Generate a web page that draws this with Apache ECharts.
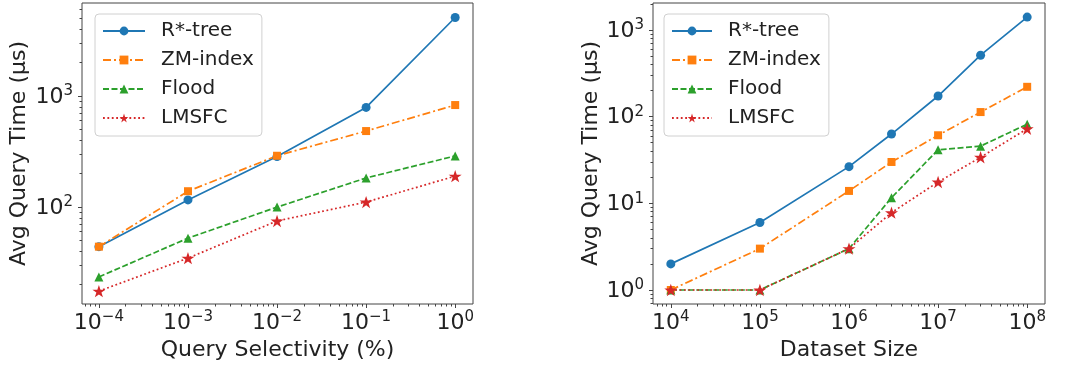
<!DOCTYPE html>
<html><head><meta charset="utf-8">
<script src="https://cdn.jsdelivr.net/npm/echarts@6/dist/echarts.min.js"></script>
<style>html,body{margin:0;padding:0;background:#fff}#c{width:1080px;height:369px}</style>
</head><body><div id="c"></div>
<script>
const seriesNames = ['R*-tree', 'ZM-index', 'Flood', 'LMSFC'];
// Left panel: Query Selectivity (%)
const selectivity = [1e-4, 1e-3, 1e-2, 1e-1, 1];
const selRtree = [44, 116, 285, 790, 5100];
const selZM = [44, 139, 290, 484, 830];
const selFlood = [23.5, 52.5, 100, 183, 289];
const selLMSFC = [17.5, 34.7, 75, 111, 190];
// Right panel: Dataset Size
const datasetSize = [1e4, 1e5, 1e6, 3e6, 1e7, 3e7, 1e8];
const sizeRtree = [2, 6, 26.5, 63, 173, 512, 1410];
const sizeZM = [1, 3, 13.9, 30, 61, 113, 221];
const sizeFlood = [1, 1, 3, 11.6, 41.5, 45.7, 82];
const sizeLMSFC = [1, 1, 3, 7.8, 17.6, 34, 72.5];
// Tick labels
const selTicks = [1e-4, 1e-3, 1e-2, 1e-1, 1];
const sizeTicks = [1e4, 1e5, 1e6, 1e7, 1e8];
const timeTicksLeft = [1e2, 1e3];
const timeTicksRight = [1, 10, 100, 1000];

const FONT = 'DejaVu Sans';
const TXT = '#222';
const AX = '#444';
const colors = ['#1f77b4', '#ff7f0e', '#2ca02c', '#d62728'];
const symbols = ['circle', 'rect', 'triangle',
  'path://M50,0 L61.8,35.3 L98.8,35.3 L68.9,57.3 L80.3,92.7 L50,70.9 L19.7,92.7 L31.1,57.3 L1.2,35.3 L38.2,35.3 Z'];
const symSizes = [9, 8, 9, 13];
const dashes = ['solid', [8, 3, 2, 3], [6, 2.5], [1.8, 2.6]];

const L = { xMin: 6.46e-5, xMax: 1.585, yMin: 13.4, yMax: 6890 };
const R = { xMin: 6310, xMax: 1.585e8, yMin: 0.689, yMax: 2049 };

function minorTicks(lo, hi) {
  const out = [];
  for (let k = Math.floor(Math.log10(lo)); k <= Math.ceil(Math.log10(hi)); k++) {
    for (let m = 2; m <= 9; m++) {
      const v = m * Math.pow(10, k);
      if (v > lo && v < hi) out.push(v);
    }
  }
  return out;
}
function sup(v) {
  const e = Math.round(Math.log10(v));
  return '{b|10}{s|' + (e < 0 ? '\u2212' + (-e) : String(e)) + '}';
}
const rich = {
  b: { fontSize: 22, fontFamily: FONT, color: TXT, verticalAlign: 'bottom' },
  s: { fontSize: 15, fontFamily: FONT, color: TXT, verticalAlign: 'bottom', padding: [0, 0, 9, 0] }
};
function majorAxis(grid, pos, min, max, ticks, name, gap, margin) {
  return {
    type: 'log', logBase: 10, gridIndex: grid, position: pos, min: min, max: max,
    axisLine: { show: false }, splitLine: { show: false },
    axisTick: { show: true, customValues: ticks, length: 4, lineStyle: { color: AX, width: 1 } },
    axisLabel: { customValues: ticks, formatter: sup, rich: rich, margin: margin },
    name: name, nameLocation: 'middle', nameGap: gap,
    nameTextStyle: { fontSize: 22, fontFamily: FONT, color: TXT }
  };
}
function minorAxis(grid, pos, min, max) {
  return {
    type: 'log', logBase: 10, gridIndex: grid, position: pos, min: min, max: max,
    axisLine: { show: false }, splitLine: { show: false }, axisLabel: { show: false },
    axisTick: { show: true, customValues: minorTicks(min, max), length: 2.5, lineStyle: { color: AX, width: 1 } }
  };
}
function pairs(x, y) { return x.map((v, i) => [v, y[i]]); }
function mkSeries(i, axisIdx, x, y) {
  return {
    type: 'line', name: seriesNames[i], xAxisIndex: axisIdx, yAxisIndex: axisIdx,
    data: pairs(x, y), symbol: symbols[i], symbolSize: symSizes[i], symbolKeepAspect: true,
    showAllSymbol: true, animation: false,
    lineStyle: { color: colors[i], width: 1.7, type: dashes[i], cap: 'butt' },
    itemStyle: { color: colors[i], borderWidth: 0 },
    emphasis: { disabled: true }
  };
}
function mkLegend(left, itemWidth) {
  return {
    left: left, top: 14, orient: 'vertical', data: seriesNames, selectedMode: false,
    itemWidth: itemWidth, itemHeight: 11, itemGap: 9,
    textStyle: { fontSize: 20, lineHeight: 20, fontFamily: FONT, color: TXT, padding: [0, 0, 0, 11] },
    backgroundColor: 'rgba(255,255,255,0.8)', borderColor: '#d0d0d0', borderWidth: 1, borderRadius: 4,
    padding: [7, 8, 8, 7]
  };
}

const chart = echarts.init(document.getElementById('c'), null, { renderer: 'canvas' });
chart.setOption({
  backgroundColor: '#fff',
  animation: false,
  grid: [
    { left: 82, top: 3, width: 391, height: 301, show: true, borderColor: AX, borderWidth: 1, backgroundColor: 'transparent' },
    { left: 653, top: 3, width: 392, height: 301, show: true, borderColor: AX, borderWidth: 1, backgroundColor: 'transparent' }
  ],
  xAxis: [
    majorAxis(0, 'bottom', L.xMin, L.xMax, selTicks, 'Query Selectivity (%)', 35, 6),
    minorAxis(0, 'bottom', L.xMin, L.xMax),
    majorAxis(1, 'bottom', R.xMin, R.xMax, sizeTicks, 'Dataset Size', 35, 6),
    minorAxis(1, 'bottom', R.xMin, R.xMax)
  ],
  yAxis: [
    majorAxis(0, 'left', L.yMin, L.yMax, timeTicksLeft, 'Avg Query Time (\u00b5s)', 52, 9),
    minorAxis(0, 'left', L.yMin, L.yMax),
    majorAxis(1, 'left', R.yMin, R.yMax, timeTicksRight, 'Avg Query Time (\u00b5s)', 51, 9),
    minorAxis(1, 'left', R.yMin, R.yMax)
  ],
  legend: [mkLegend(95, 42), mkLegend(664, 40)],
  series: [
    mkSeries(0, 0, selectivity, selRtree),
    mkSeries(1, 0, selectivity, selZM),
    mkSeries(2, 0, selectivity, selFlood),
    mkSeries(3, 0, selectivity, selLMSFC),
    mkSeries(0, 2, datasetSize, sizeRtree),
    mkSeries(1, 2, datasetSize, sizeZM),
    mkSeries(2, 2, datasetSize, sizeFlood),
    mkSeries(3, 2, datasetSize, sizeLMSFC)
  ]
});
</script></body></html>
